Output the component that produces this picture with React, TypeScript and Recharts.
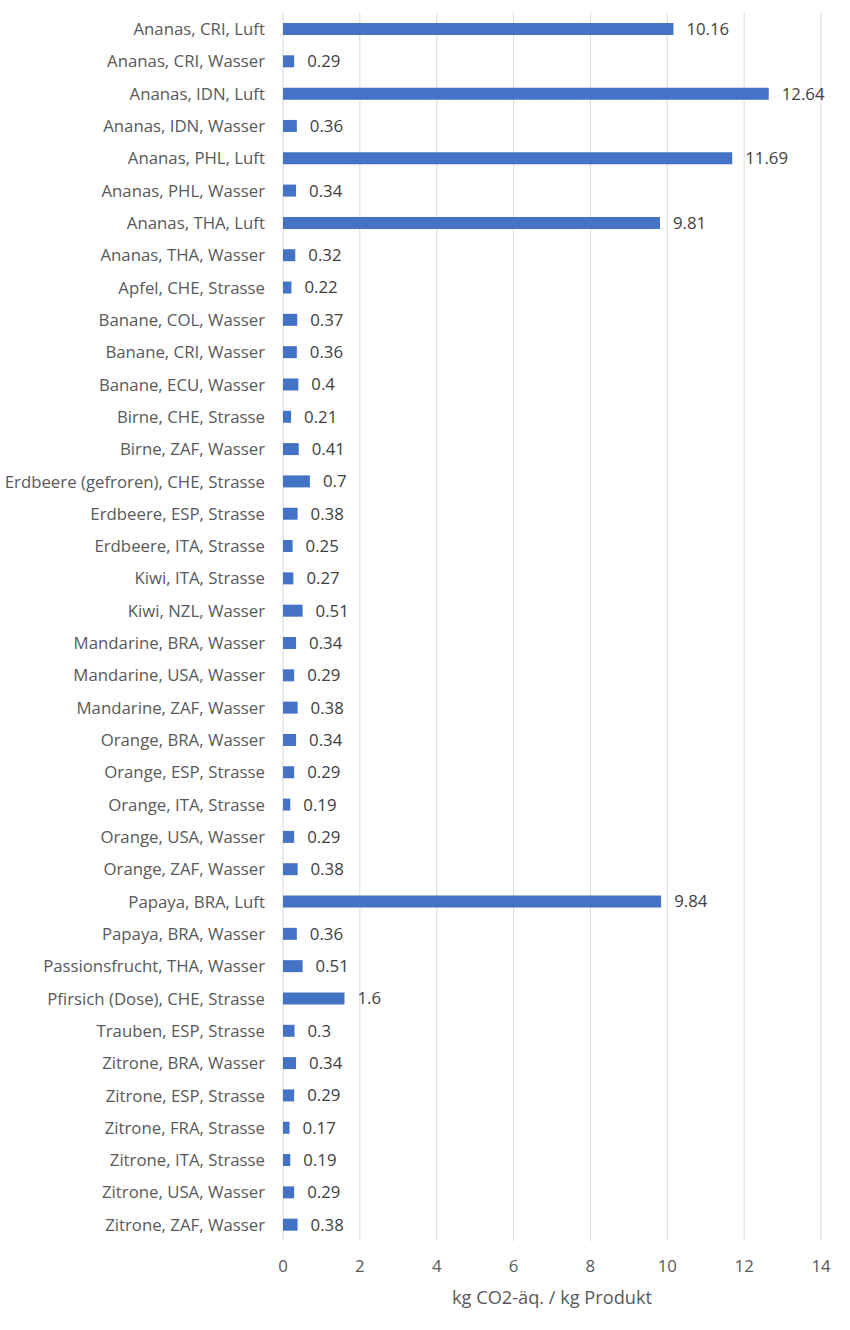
import { BarChart, Bar, XAxis, YAxis, CartesianGrid, LabelList } from 'recharts';

const categories = [
  'Ananas, CRI, Luft', 'Ananas, CRI, Wasser', 'Ananas, IDN, Luft', 'Ananas, IDN, Wasser',
  'Ananas, PHL, Luft', 'Ananas, PHL, Wasser', 'Ananas, THA, Luft', 'Ananas, THA, Wasser',
  'Apfel, CHE, Strasse', 'Banane, COL, Wasser', 'Banane, CRI, Wasser', 'Banane, ECU, Wasser',
  'Birne, CHE, Strasse', 'Birne, ZAF, Wasser', 'Erdbeere (gefroren), CHE, Strasse', 'Erdbeere, ESP, Strasse',
  'Erdbeere, ITA, Strasse', 'Kiwi, ITA, Strasse', 'Kiwi, NZL, Wasser', 'Mandarine, BRA, Wasser',
  'Mandarine, USA, Wasser', 'Mandarine, ZAF, Wasser', 'Orange, BRA, Wasser', 'Orange, ESP, Strasse',
  'Orange, ITA, Strasse', 'Orange, USA, Wasser', 'Orange, ZAF, Wasser', 'Papaya, BRA, Luft',
  'Papaya, BRA, Wasser', 'Passionsfrucht, THA, Wasser', 'Pfirsich (Dose), CHE, Strasse', 'Trauben, ESP, Strasse',
  'Zitrone, BRA, Wasser', 'Zitrone, ESP, Strasse', 'Zitrone, FRA, Strasse', 'Zitrone, ITA, Strasse',
  'Zitrone, USA, Wasser', 'Zitrone, ZAF, Wasser',
];

const values = [
  10.16, 0.29, 12.64, 0.36,
  11.69, 0.34, 9.81, 0.32,
  0.22, 0.37, 0.36, 0.4,
  0.21, 0.41, 0.7, 0.38,
  0.25, 0.27, 0.51, 0.34,
  0.29, 0.38, 0.34, 0.29,
  0.19, 0.29, 0.38, 9.84,
  0.36, 0.51, 1.6, 0.3,
  0.34, 0.29, 0.17, 0.19,
  0.29, 0.38,
];

const xTicks = [0, 2, 4, 6, 8, 10, 12, 14];

const data = categories.map((name, i) => ({ name, value: values[i] }));

const font = '"Open Sans", Lato, sans-serif';

export default function App() {
  return (
    <div style={{ width: 850, height: 1330, background: '#fff' }}>
      <style>{`body{margin:0}`}</style>
      <BarChart
        width={850}
        height={1330}
        data={data}
        layout="vertical"
        margin={{ top: 13, right: 29, bottom: 22, left: 0 }}
        barCategoryGap="31%"
        style={{ fontFamily: font }}
      >
        <CartesianGrid horizontal={false} stroke="#d9d9d9" />
        <XAxis
          type="number"
          domain={[0, 14]}
          ticks={xTicks}
          tickLine={false}
          axisLine={false}
          tickSize={0}
          tickMargin={19}
          height={67}
          tick={{ fill: '#595959', fontSize: 16.8 }}
          label={{ value: 'kg CO2-äq. / kg Produkt', position: 'insideBottom', offset: 4, fill: '#595959', fontSize: 18.2 }}
        />
        <YAxis
          type="category"
          dataKey="name"
          width={283}
          interval={0}
          tickLine={false}
          axisLine={false}
          tickSize={0}
          tickMargin={18}
          tick={{ fill: '#595959', fontSize: 16.8 }}
        />
        <Bar dataKey="value" fill="#4472C4" barSize={12} isAnimationActive={false}>
          <LabelList dataKey="value" position="right" offset={13} fill="#404040" fontSize={16.8} />
        </Bar>
      </BarChart>
    </div>
  );
}
